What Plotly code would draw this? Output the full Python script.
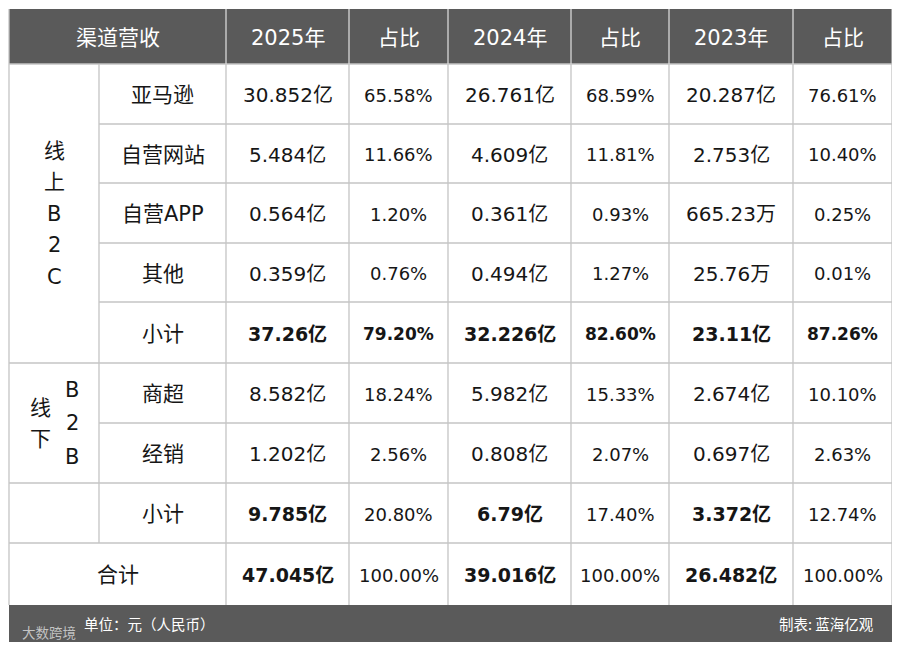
import plotly.graph_objects as go

# ---------------- data ----------------
headers = ["渠道营收", "2025年", "占比", "2024年", "占比", "2023年", "占比"]
group_online = "线上B2C"
group_offline_a = "线下"
group_offline_b = "B2B"
channels = ["亚马逊", "自营网站", "自营APP", "其他", "小计", "商超", "经销", "小计"]
total_label = "合计"
rev_2025 = ["30.852亿", "5.484亿", "0.564亿", "0.359亿", "37.26亿", "8.582亿", "1.202亿", "9.785亿", "47.045亿"]
share_2025 = ["65.58%", "11.66%", "1.20%", "0.76%", "79.20%", "18.24%", "2.56%", "20.80%", "100.00%"]
rev_2024 = ["26.761亿", "4.609亿", "0.361亿", "0.494亿", "32.226亿", "5.982亿", "0.808亿", "6.79亿", "39.016亿"]
share_2024 = ["68.59%", "11.81%", "0.93%", "1.27%", "82.60%", "15.33%", "2.07%", "17.40%", "100.00%"]
rev_2023 = ["20.287亿", "2.753亿", "665.23万", "25.76万", "23.11亿", "2.674亿", "0.697亿", "3.372亿", "26.482亿"]
share_2023 = ["76.61%", "10.40%", "0.25%", "0.01%", "87.26%", "10.10%", "2.63%", "12.74%", "100.00%"]
footer_left = "单位：元（人民币）"
footer_right = "制表: 蓝海亿观"
corner_mark = "大数跨境"

# ---------------- layout (page-pixel grid) ----------------
PAGE_OFF = 8            # default body margin of the html page
W, H = 886, 635
col_x = [9, 99, 226, 349, 448, 571, 669, 793, 892]
row_y = [9, 64, 124, 183, 243, 302, 363, 423, 483, 543, 605]
footer_bottom = 642

HEADER_BG = "#5a5a5a"
LINE = "#c4c4c4"
TEXT = "#161616"
FONT = "DejaVu Sans, Noto Sans CJK SC"
CJK = "Noto Sans CJK SC"

shapes = []
ann = []

def rect(x0, y0, x1, y1, fill):
    shapes.append(dict(type="rect", xref="x", yref="y", x0=x0, y0=y0, x1=x1, y1=y1,
                       fillcolor=fill, line=dict(width=0), layer="below"))

def line(x0, y0, x1, y1, color=LINE, w=1.3):
    shapes.append(dict(type="line", xref="x", yref="y", x0=x0, y0=y0, x1=x1, y1=y1,
                       line=dict(color=color, width=w)))

def text(x, y, s, size=20, color=TEXT, bold=False, xanchor="center", family=FONT):
    ann.append(dict(x=x, y=y, xref="x", yref="y", text=f"<b>{s}</b>" if bold else s,
                    showarrow=False, xanchor=xanchor, yanchor="middle",
                    font=dict(family=family, size=size, color=color)))

# backgrounds
rect(col_x[0], row_y[0], col_x[-1], row_y[1], HEADER_BG)
rect(col_x[0], row_y[-1], col_x[-1], footer_bottom, HEADER_BG)

# horizontal lines
for i in range(1, len(row_y) - 1):
    y = row_y[i]
    if y in (row_y[1], row_y[6], row_y[8], row_y[9]):
        line(col_x[0], y, col_x[-1], y)
    else:
        line(col_x[1], y, col_x[-1], y)
# vertical lines
line(col_x[0], row_y[0], col_x[0], row_y[-1])
line(col_x[-1], row_y[0], col_x[-1], row_y[-1])
line(col_x[1], row_y[1], col_x[1], row_y[9])
for x in col_x[2:-1]:
    line(x, row_y[1], x, row_y[-1])
    line(x, row_y[0], x, row_y[1], color="#d8d8d8", w=1.3)

# header text
hdr_centers = [(col_x[0] + col_x[2]) / 2] + [(col_x[i] + col_x[i + 1]) / 2 for i in range(2, 8)]
for cx, h in zip(hdr_centers, headers):
    text(cx, (row_y[0] + row_y[1]) / 2 + 1, h, size=21, color="#ffffff")

# group labels
cx0 = (col_x[0] + col_x[1]) / 2
cy_on = (row_y[1] + row_y[6]) / 2
step = 31.5
n = len(group_online)
for k, ch in enumerate(group_online):
    text(cx0, cy_on + (k - (n - 1) / 2) * step, ch, size=21)
cy_off = (row_y[6] + row_y[8]) / 2
for k, ch in enumerate(group_offline_a):
    text(cx0 - 14, cy_off + (k - 0.5) * 31, ch, size=21)
for k, ch in enumerate(group_offline_b):
    text(cx0 + 18, cy_off + (k - 1) * 33.5, ch, size=21)

# channel labels
cx1 = (col_x[1] + col_x[2]) / 2
for r, ch in enumerate(channels):
    text(cx1, (row_y[r + 1] + row_y[r + 2]) / 2 + 1, ch, size=21)
text((col_x[0] + col_x[2]) / 2, (row_y[9] + row_y[10]) / 2 + 1, total_label, size=21)

# values
cols = [rev_2025, share_2025, rev_2024, share_2024, rev_2023, share_2023]
bold_rev_rows = {4, 7, 8}
for c, vals in enumerate(cols):
    cx = (col_x[c + 2] + col_x[c + 3]) / 2
    is_rev = (c % 2 == 0)
    for r, v in enumerate(vals):
        b = (is_rev and r in bold_rev_rows) or (not is_rev and r == 4)
        size = (20 if not b else 19) if is_rev else (18 if not b else 17)
        text(cx, (row_y[r + 1] + row_y[r + 2]) / 2 + 1, v, size=size, bold=b)

# footer
fy = (row_y[-1] + footer_bottom) / 2
text(82, fy, footer_left, size=14.5, color="#ffffff", xanchor="left", family=CJK)
text(876, fy, footer_right, size=14.5, color="#ffffff", xanchor="right", family=CJK)
text(20, 632, corner_mark, size=13.5, color="rgba(215,215,215,0.85)", xanchor="left", family=CJK)

fig = go.Figure()
fig.update_layout(
    width=W, height=H,
    margin=dict(l=0, r=0, t=0, b=0),
    paper_bgcolor="#ffffff", plot_bgcolor="#ffffff",
    xaxis=dict(range=[PAGE_OFF, PAGE_OFF + W], visible=False, fixedrange=True),
    yaxis=dict(range=[PAGE_OFF + H, PAGE_OFF], visible=False, fixedrange=True),
    shapes=shapes, annotations=ann, showlegend=False,
)
fig.write_html("out.html")
